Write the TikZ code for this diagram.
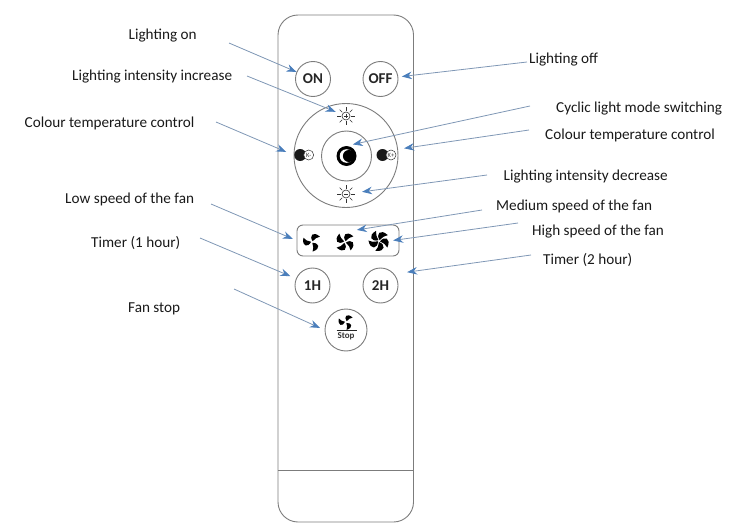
\documentclass[tikz,border=0pt]{standalone}
\usepackage{fontspec}
\setmainfont{Carlito}
\usepackage{xcolor}
\usetikzlibrary{arrows.meta,calc,positioning}
\definecolor{shell}{HTML}{7C7C7C}
\definecolor{ptrline}{HTML}{7F97B5}
\definecolor{ptrhead}{HTML}{4A7EBB}
\tikzset{
	btn/.style={circle,draw=shell,fill=white,line width=0.9pt,minimum size=35pt,inner sep=0pt,font=\fontsize{15}{16}\selectfont\bfseries,text=black!85},
	lbl/.style={anchor=west,inner sep=0pt,yshift=-1.5pt,font=\fontsize{15.2}{17}\selectfont,text=black!90},
	spot/.style={circle,inner sep=0pt,minimum size=#1},
	ptr/.style={line width=0.8pt,color=ptrline,-{Stealth[length=10pt,width=7.5pt,color=ptrhead]}},
	pics/fanicon/.style 2 args={code={
		\foreach \a in {1,...,#1} {
			\fill[black,rotate=\a*360/#1+50] (1,0) .. controls (#2*0.3,-#2*0.7) and (#2*1.05,-#2*0.75) .. (#2*1.02,#2*0.3) .. controls (#2*0.8,#2*0.05) and (#2*0.5,#2*0.05) .. cycle;
		}
	}},
	pics/sunicon/.style={code={
		\draw[line width=0.6pt,black!80] (0,0) circle [radius=4];
		\foreach \a in {0,45,...,315} \draw[line width=0.6pt,black!80] (\a:5.4) -- (\a:9);
		\draw[line width=0.5pt,black!80] (-2.2,0) -- (2.2,0);
		\ifnum#1=1 \draw[line width=0.5pt,black!80] (0,-2.2) -- (0,2.2);\fi
	}},
	pics/moonicon/.style={code={
		\fill[black] (0,0) circle [radius=10];
		\fill[white] (0,0) circle [radius=6.8];
		\fill[black] (2.4,0) circle [radius=6];
	}},
	pics/toggleicon/.style={code={
		\fill[black!90] (-4.5,0) circle [radius=6];
		\draw[black!80,fill=white,line width=0.5pt] (4,0) circle [radius=5];
		\node[inner sep=0pt,font=\fontsize{6.5}{7}\selectfont,text=black!80] at (4,0) {#1};
	}}
}
\begin{document}
\begin{tikzpicture}[x=1pt,y=-1pt]
	\useasboundingbox (0,0) rectangle (729,527);
	% remote body
	\draw[shell,line width=0.9pt,rounded corners=20pt] (278,15) rectangle (413.5,522);
	\draw[shell,line width=0.9pt] (278,470) -- (413.5,470);

	\node[btn] (btnOn) at (313,79) {ON};
	\node[btn] (btnOff) at (380.5,79) {OFF};
	\node[btn,minimum size=104pt] (ringOuter) at (346,155.5) {};
	\node[btn,minimum size=50pt] (ringInner) at (346.5,156) {};
	\node[spot=22pt] (sunUp) at (346,116) {};
	\node[spot=22pt] (sunDown) at (346,194) {};
	\node[spot=20pt] (moonKey) at (346.5,156) {};
	\node[spot=22pt] (toggleLeft) at (304.7,155) {};
	\node[spot=22pt] (toggleRight) at (387,155) {};
	\pic at (sunUp) {sunicon=1};
	\pic at (sunDown) {sunicon=0};
	\pic at (moonKey) {moonicon};
	\pic at (toggleLeft) {toggleicon={K-}};
	\pic at (toggleRight) {toggleicon={K+}};

	\node[draw=shell,fill=white,line width=0.9pt,rounded corners=6pt,minimum width=102pt,minimum height=31pt,inner sep=0pt] (boxFans) at (348,240.5) {};
	\node[spot=20pt] (fanLow) at (312,242) {};
	\node[spot=20pt] (fanMed) at (345,242) {};
	\node[spot=20pt] (fanHigh) at (379,241) {};
	\pic at (fanLow) {fanicon={3}{9}};
	\pic at (fanMed) {fanicon={4}{9.5}};
	\pic at (fanHigh) {fanicon={5}{10}};

	\node[btn] (btn1H) at (312.5,285.5) {1H};
	\node[btn] (btn2H) at (380.5,285.5) {2H};
	\node[btn,minimum size=42pt] (btnStop) at (346,330) {};
	\node[spot=14pt] (fanStop) at (346,322) {};
	\pic at (fanStop) {fanicon={3}{7.5}};
	\draw[black!85,line width=0.8pt] (336.5,330.7) -- (356.5,330.7);
	\node[inner sep=0pt,font=\fontsize{9}{9}\selectfont\bfseries,text=black!80] (txtStop) at (346,336.3) {Stop};

	\node[lbl] (lblOn) at (128.5,34) {Lighting on};
	\node[lbl] (lblUp) at (72,75.5) {Lighting intensity increase};
	\node[lbl] (lblTempL) at (24.5,121.5) {Colour temperature control};
	\node[lbl] (lblLow) at (65,197.5) {Low speed of the fan};
	\node[lbl] (lblOneH) at (91,241) {Timer (1 hour)};
	\node[lbl] (lblStop) at (128,307) {Fan stop};
	\node[lbl] (lblOff) at (529,58) {Lighting off};
	\node[lbl] (lblCyclic) at (556,107) {Cyclic light mode switching};
	\node[lbl] (lblTempR) at (545,134) {Colour temperature control};
	\node[lbl] (lblDown) at (503.5,175.5) {Lighting intensity decrease};
	\node[lbl] (lblMed) at (496,205) {Medium speed of the fan};
	\node[lbl] (lblHigh) at (532,230) {High speed of the fan};
	\node[lbl] (lblTwoH) at (543,258) {Timer (2 hour)};

	% free ends of the pointers
	\coordinate (tailOn) at (229,43);
	\coordinate (tailUp) at (247,76);
	\coordinate (tailTempL) at (216,122);
	\coordinate (tailLow) at (211,204);
	\coordinate (tailOneH) at (200,238);
	\coordinate (tailStop) at (234,289);
	\coordinate (tailOff) at (527,62);
	\coordinate (tailCyclic) at (530,106);
	\coordinate (tailTempR) at (529,130);
	\coordinate (tailDown) at (487,175);
	\coordinate (tailMed) at (482,210);
	\coordinate (tailHigh) at (518,223);
	\coordinate (tailTwoH) at (531,255);

	\draw[ptr] (tailOn) -- (btnOn);
	\draw[ptr] (tailUp) -- (sunUp);
	\draw[ptr,shorten >=8pt] (tailTempL) -- (toggleLeft.west);
	\draw[ptr,shorten >=4pt] (tailLow) -- (boxFans.west);
	\draw[ptr,shorten >=6pt] (tailOneH) -- (btn1H);
	\draw[ptr,shorten >=5pt] (tailStop) -- (btnStop.west);
	\draw[ptr,shorten >=3.5pt] (tailOff) -- (btnOff);
	\draw[ptr,shorten >=6.5pt] (tailCyclic) -- (moonKey.north);
	\draw[ptr,shorten >=7.5pt] (tailTempR) -- (toggleRight.30);
	\draw[ptr,shorten >=5pt] (tailDown) -- (sunDown);
	\draw[ptr,shorten >=12pt] (tailMed) -- (fanMed.north);
	\draw[ptr,shorten >=4pt] (tailHigh) -- (fanHigh.east);
	\draw[ptr,shorten >=13pt] (tailTwoH) -- (btn2H.40);
\end{tikzpicture}
\end{document}
